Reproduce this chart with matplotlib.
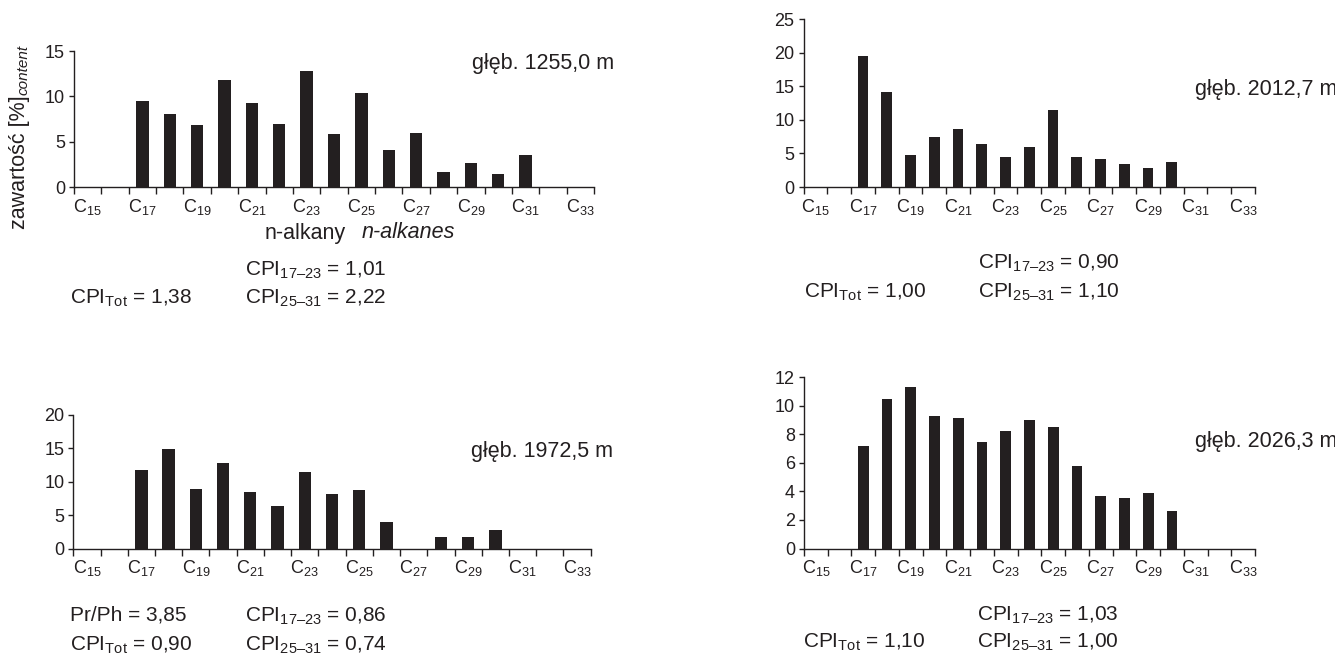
import numpy as np
import matplotlib
matplotlib.use('Agg')
import matplotlib.pyplot as plt

plt.rcParams['font.family'] = ['Liberation Sans', 'DejaVu Sans']
plt.rcParams['mathtext.fontset'] = 'custom'
plt.rcParams['mathtext.rm'] = 'Liberation Sans'
plt.rcParams['mathtext.it'] = 'Liberation Sans:italic'

# n-alkane carbon numbers C15..C33
carbons = list(range(15, 34))
label_carbons = list(range(15, 34, 2))
tick_labels = ['C$_{%d}$' % c for c in label_carbons]

# content [%] per carbon number, one list per depth
d1255 = [0, 0, 9.5, 8.1, 6.8, 11.8, 9.3, 7.0, 12.8, 5.8, 10.4, 4.1, 6.0, 1.6, 2.7, 1.4, 3.5, 0, 0]
d2012 = [0, 0, 19.5, 14.1, 4.8, 7.5, 8.6, 6.4, 4.5, 5.9, 11.4, 4.5, 4.2, 3.4, 2.9, 3.7, 0, 0, 0]
d1972 = [0, 0, 11.8, 14.8, 8.9, 12.8, 8.4, 6.3, 11.5, 8.1, 8.7, 4.0, 0, 1.7, 1.7, 2.7, 0, 0, 0]
d2026 = [0, 0, 7.2, 10.45, 11.35, 9.3, 9.15, 7.45, 8.25, 9.0, 8.5, 5.75, 3.7, 3.55, 3.9, 2.65, 0, 0, 0]

W, H = 1335, 654
INK = '#231f20'
BIG = 15.5
CPI = 15


def px(x, y):
    return x / W, 1 - y / H


def axes_px(fig, x0, x1, ytop, ybot):
    return fig.add_axes([x0 / W, 1 - ybot / H, (x1 - x0) / W, (ybot - ytop) / H])


def panel(ax, values, ymax, ystep):
    ax.bar(carbons, values, width=0.45, color=INK, edgecolor='none')
    ax.set_xlim(14.5, 33.5)
    ax.set_ylim(0, ymax)
    ax.set_yticks(np.arange(0, ymax + 0.1, ystep))
    ax.set_xticks(np.arange(14.5, 34.0, 1.0))
    ax.set_xticklabels([])
    ax.set_xticks(label_carbons, minor=True)
    ax.set_xticklabels(tick_labels, minor=True)
    for s in ['top', 'right']:
        ax.spines[s].set_visible(False)
    for s in ['left', 'bottom']:
        ax.spines[s].set_linewidth(1.0)
        ax.spines[s].set_color(INK)
    ax.tick_params(axis='x', which='major', length=5, width=1.0, direction='out', color=INK)
    ax.tick_params(axis='x', which='minor', length=0, pad=7, labelsize=13, labelcolor=INK)
    ax.tick_params(axis='y', length=3.5, width=1.0, pad=3, labelsize=13, color=INK, labelcolor=INK)


def txt(fig, x, y, s, size=BIG, **kw):
    fx, fy = px(x, y)
    fig.text(fx, fy, s, fontsize=size, ha='left', va='center', color=INK, **kw)


fig = plt.figure(figsize=(13.35, 6.54), dpi=100)

ax1 = axes_px(fig, 74, 594, 51, 187)
panel(ax1, d1255, 15, 5)
ax2 = axes_px(fig, 803.5, 1255, 19, 187)
panel(ax2, d2012, 25, 5)
ax3 = axes_px(fig, 73.3, 590.7, 414.7, 548.5)
panel(ax3, d1972, 20, 5)
ax4 = axes_px(fig, 804, 1255, 377.3, 548.5)
panel(ax4, d2026, 12, 2)

# depth labels
txt(fig, 472, 63, 'głęb. 1255,0 m')
txt(fig, 1195, 90, 'głęb. 2012,7 m')
txt(fig, 471, 451, 'głęb. 1972,5 m')
txt(fig, 1195, 442, 'głęb. 2026,3 m')

# axis titles on the first panel
txt(fig, 265, 233, 'n-alkany')
txt(fig, 362, 233, 'n-alkanes', style='italic')
fig.text(20 / W, 1 - 162 / H, 'zawartość [%]', rotation=90, fontsize=BIG,
         ha='center', va='center', color=INK)
fig.text(23 / W, 1 - 70 / H, 'content', rotation=90, fontsize=11, style='italic',
         ha='center', va='center', color=INK)

# CPI values
txt(fig, 245, 270, 'CPI$_{17\u201323}$ = 1,01', CPI)
txt(fig, 70, 298, 'CPI$_{\\mathrm{Tot}}$ = 1,38', CPI)
txt(fig, 245, 298, 'CPI$_{25\u201331}$ = 2,22', CPI)

txt(fig, 978, 263, 'CPI$_{17\u201323}$ = 0,90', CPI)
txt(fig, 804, 292, 'CPI$_{\\mathrm{Tot}}$ = 1,00', CPI)
txt(fig, 978, 292, 'CPI$_{25\u201331}$ = 1,10', CPI)

txt(fig, 70, 615, 'Pr/Ph = 3,85', CPI)
txt(fig, 245, 616, 'CPI$_{17\u201323}$ = 0,86', CPI)
txt(fig, 70, 645, 'CPI$_{\\mathrm{Tot}}$ = 0,90', CPI)
txt(fig, 245, 645, 'CPI$_{25\u201331}$ = 0,74', CPI)

txt(fig, 977, 615, 'CPI$_{17\u201323}$ = 1,03', CPI)
txt(fig, 803, 642, 'CPI$_{\\mathrm{Tot}}$ = 1,10', CPI)
txt(fig, 977, 642, 'CPI$_{25\u201331}$ = 1,00', CPI)

fig.savefig('out.png', dpi=100, facecolor='white')
